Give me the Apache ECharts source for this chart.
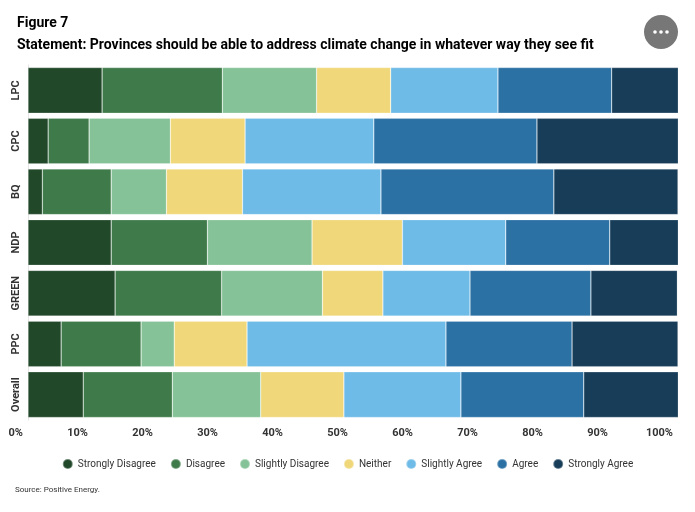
<!DOCTYPE html>
<html><head><meta charset="utf-8">
<script src="https://cdn.jsdelivr.net/npm/echarts@6/dist/echarts.min.js"></script>
<style>html,body{margin:0;padding:0;background:#fff}#c{width:695px;height:512px}</style>
</head><body><div id="c"></div>
<script>
const categories = ['LPC','CPC','BQ','NDP','GREEN','PPC','Overall'];
const seriesNames = ['Strongly Disagree','Disagree','Slightly Disagree','Neither','Slightly Agree','Agree','Strongly Agree'];
const stronglyDisagree = [11.4, 3.1, 2.2, 12.8, 13.4, 5.1, 8.5];
const disagree         = [18.5, 6.3, 10.6, 14.8, 16.4, 12.3, 13.7];
const slightlyDisagree = [14.5, 12.5, 8.5, 16.1, 15.5, 5.1, 13.6];
const neither          = [11.4, 11.5, 11.7, 13.9, 9.3, 11.2, 12.8];
const slightlyAgree    = [16.5, 19.8, 21.3, 15.9, 13.4, 30.6, 18.0];
const agree            = [17.5, 25.1, 26.6, 16.0, 18.6, 19.4, 18.9];
const stronglyAgree    = [10.3, 21.8, 19.1, 10.6, 13.3, 16.3, 14.6];
const xTicks = ['0%','10%','20%','30%','40%','50%','60%','70%','80%','90%','100%'];
const colors = ['#22482a','#3f7b4a','#85c297','#f0d87a','#6ebbe8','#2b71a4','#173d59'];

const allValues = [stronglyDisagree, disagree, slightlyDisagree, neither, slightlyAgree, agree, stronglyAgree];
const FONT = 'Roboto, "Noto Sans", sans-serif';

const chart = echarts.init(document.getElementById('c'), null, {renderer:'canvas'});
chart.setOption({
  animation: false,
  color: colors,
  title: [
    {text: 'Figure 7', left: 12, top: 11, textStyle:{fontFamily: FONT, fontSize: 14, fontWeight: 'bold', color:'#000'}},
    {text: 'Statement: Provinces should be able to address climate change in whatever way they see fit', left: 12, top: 33, textStyle:{fontFamily: FONT, fontSize: 14, fontWeight: 'bold', color:'#000'}},
    {text: 'Source: Positive Energy.', left: 10, top: 481, textStyle:{fontFamily: FONT, fontSize: 8, fontWeight: 'normal', color:'#333'}}
  ],
  legend: {
    bottom: 37, left: 'center', icon: 'circle', itemWidth: 10, itemHeight: 10, itemGap: 14,
    textStyle: {fontFamily: FONT, fontSize: 10, color: '#333'},
    data: seriesNames
  },
  grid: {left: 28, right: 17, top: 65, bottom: 92, containLabel: false},
  xAxis: {
    type: 'value', min: 0, max: 100, interval: 10,
    axisLine: {show: false}, axisTick: {show: false}, splitLine: {show: false},
    axisLabel: {
      fontFamily: FONT, fontSize: 11, fontWeight: 'bold', color: '#333', margin: 8,
      align: 'right', padding: [0, 5, 0, 0],
      formatter: function(v){ return xTicks[Math.round(v/10)]; }
    }
  },
  yAxis: {
    type: 'category', data: categories, inverse: true,
    axisLine: {show: true, lineStyle: {color: '#e6e6e6'}}, axisTick: {show: false},
    axisLabel: {rotate: 90, fontFamily: FONT, fontSize: 11, fontWeight: 'bold', color: '#333', margin: 6}
  },
  graphic: [
    {type: 'circle', shape: {cx: 661, cy: 32, r: 17}, style: {fill: '#777'}},
    {type: 'circle', shape: {cx: 655, cy: 32, r: 1.8}, style: {fill: '#fff'}},
    {type: 'circle', shape: {cx: 661, cy: 32, r: 1.8}, style: {fill: '#fff'}},
    {type: 'circle', shape: {cx: 667, cy: 32, r: 1.8}, style: {fill: '#fff'}}
  ],
  series: seriesNames.map((n, i) => ({
    name: n, type: 'bar', stack: 'total', data: allValues[i],
    barCategoryGap: '10%',
    itemStyle: {borderColor: 'rgba(255,255,255,0.35)', borderWidth: 0.6}
  }))
});
</script></body></html>
